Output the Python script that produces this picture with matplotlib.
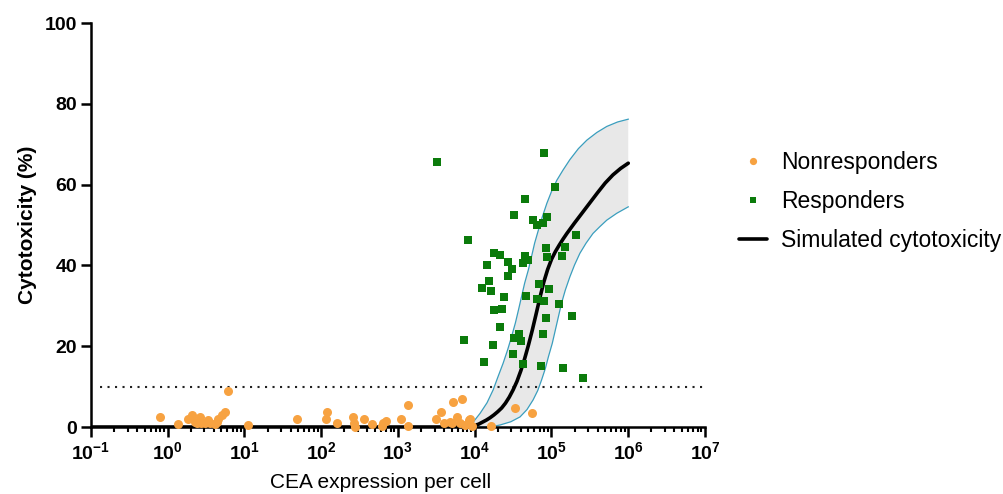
import numpy as np
import matplotlib
matplotlib.use('Agg')
import matplotlib.pyplot as plt
from matplotlib.ticker import FixedLocator, LogLocator, NullFormatter

plt.rcParams['font.family'] = ['Liberation Sans', 'DejaVu Sans']
plt.rcParams['mathtext.fontset'] = 'custom'
plt.rcParams['mathtext.rm'] = 'Liberation Sans:bold'
plt.rcParams['mathtext.it'] = 'Liberation Sans:bold'
plt.rcParams['mathtext.bf'] = 'Liberation Sans:bold'
plt.rcParams['mathtext.default'] = 'bf'

# nonresponders: CEA expression per cell, cytotoxicity (%)
nonresp_x = [0.79, 1.35, 1.85, 2.1, 2.26, 2.38, 2.63, 2.75, 3.05, 3.37, 3.55,
             4.1, 4.35, 4.57, 5.05, 5.57, 6.15, 11.2, 47.9, 120, 117, 162,
             263, 269, 275, 363, 457, 617, 646, 708, 1100, 1350, 1350, 3160,
             3630, 3980, 4790, 5250, 5890, 6920, 5010, 6460, 7410, 8320,
             8710, 9120, 16200, 33100, 55000]
nonresp_y = [2.5, 0.7, 1.9, 3.0, 1.3, 0.9, 2.5, 1.1, 0.9, 1.7, 0.9,
             0.7, 1.3, 2.1, 3.0, 3.8, 8.9, 0.5, 2.1, 3.8, 1.9, 1.1,
             2.4, 0.9, 0.1, 1.9, 0.7, 0.25, 0.9, 1.6, 2.1, 5.4, 0.25, 2.1,
             3.8, 1.1, 1.3, 6.3, 2.5, 6.9, 0.9, 0.9, 0.5, 1.7,
             1.9, 0.25, 0.25, 4.6, 3.4]

# responders
resp_x = [3210, 80500, 112000, 45700, 32400, 56900, 88100, 65300, 76700,
          8130, 209000, 18000, 21400, 85100, 151000, 88100, 135000, 45200,
          50100, 42700, 27500, 14300, 30200, 27500, 15300, 12300, 16200,
          69200, 93300, 24300, 46800, 64600, 79400, 126000, 17600, 22900,
          85100, 186000, 21400, 76700, 7240, 32700, 37200, 39800, 17400,
          31600, 13300, 42200, 72400, 141000, 257000]
resp_y = [65.7, 67.9, 59.3, 56.4, 52.4, 51.2, 51.9, 50.0, 50.6,
          46.3, 47.5, 43.1, 42.7, 44.2, 44.6, 42.2, 42.4, 42.4,
          41.3, 40.5, 40.9, 40.1, 39.0, 37.5, 36.2, 34.3, 33.7,
          35.4, 34.2, 32.3, 32.4, 31.6, 31.3, 30.4, 29.0, 29.1,
          27.1, 27.6, 24.7, 23.0, 21.5, 22.1, 23.0, 21.4, 20.2,
          18.0, 16.2, 15.5, 15.1, 14.5, 12.2]

# simulated cytotoxicity (log10 of CEA expression, %)
sim_logx = [-1.0, 3.5, 3.8, 3.9, 4.00, 4.05, 4.10, 4.15, 4.20, 4.25, 4.30,
            4.35, 4.40, 4.45, 4.50, 4.55, 4.60, 4.65, 4.70, 4.75, 4.80,
            4.85, 4.90, 4.95, 5.00, 5.05, 5.10, 5.15, 5.20, 5.30, 5.40,
            5.50, 5.60, 5.70, 5.80, 5.90, 6.00]
sim_y = [0.0, 0.0, 0.05, 0.15, 0.4, 0.7, 1.2, 1.7, 2.3, 3.0, 3.8,
         4.7, 5.9, 7.4, 9.2, 11.3, 13.9, 16.9, 20.3, 24.0, 28.0,
         32.1, 35.9, 39.0, 41.5, 43.4, 45.0, 46.5, 47.9, 50.5, 53.0,
         55.5, 58.0, 60.4, 62.4, 64.0, 65.3]

# band edges
upper_logx = [3.5, 3.85, 3.95, 4.07, 4.16, 4.24, 4.30, 4.37, 4.43, 4.48,
              4.53, 4.57, 4.61, 4.65, 4.70, 4.74, 4.78, 4.83, 4.88, 4.94,
              5.00, 5.07, 5.15, 5.24, 5.35, 5.46, 5.59, 5.72, 5.86, 6.0]
upper_y = [0.0, 0.05, 0.5, 3.4, 6.0, 9.2, 12.3, 15.8, 19.2, 22.4,
           25.8, 29.0, 32.3, 35.6, 39.0, 42.2, 45.5, 48.8, 52.0, 55.4,
           58.3, 61.1, 63.6, 66.2, 68.9, 71.0, 72.9, 74.4, 75.5, 76.2]
lower_logx = [3.5, 4.2, 4.33, 4.47, 4.59, 4.68, 4.76, 4.82, 4.87, 4.92,
              4.96, 5.01, 5.05, 5.09, 5.13, 5.18, 5.24, 5.30, 5.37, 5.45,
              5.54, 5.63, 5.72, 5.85, 6.0]
lower_y = [0.0, 0.0, 0.5, 1.3, 2.5, 4.3, 6.7, 9.0, 11.6, 14.5,
           17.4, 20.7, 24.0, 27.3, 30.6, 33.9, 37.2, 40.1, 43.0, 45.5,
           47.9, 49.6, 51.2, 52.9, 54.5]

threshold = 10

orange = '#F7A241'
green = '#0B7B0B'
band_edge = '#3A9EBE'

fig = plt.figure(figsize=(10.04, 4.94), dpi=100)
ax = fig.add_axes([0.0906, 0.1356, 0.6116, 0.8178])

ux = 10 ** np.array(upper_logx)
lx = 10 ** np.array(lower_logx)
ax.fill(np.concatenate([ux, lx[::-1]]), np.concatenate([upper_y, lower_y[::-1]]),
        color='#E8E8E8', lw=0, zorder=1)
ax.plot(ux, upper_y, color=band_edge, lw=0.9, zorder=2)
ax.plot(lx, lower_y, color=band_edge, lw=0.9, zorder=2)

ax.plot([0.13, 1e7], [threshold, threshold], color='#222222', lw=1.5,
        linestyle=(0, (1, 2.6)), zorder=2)

ax.plot(10 ** np.array(sim_logx), sim_y, color='black', lw=2.6,
        solid_capstyle='round', solid_joinstyle='round', zorder=3,
        label='Simulated cytotoxicity')

ax.plot(nonresp_x, nonresp_y, 'o', color=orange, ms=6.5, mew=0,
        clip_on=False, zorder=5, label='Nonresponders')
ax.plot(resp_x, resp_y, 's', color=green, ms=6, mew=0,
        clip_on=False, zorder=4, label='Responders')

ax.set_xscale('log')
ax.set_xlim(1e-1, 1e7)
ax.set_ylim(0, 100)
majors = [10.0 ** k for k in range(-1, 8)]
ax.xaxis.set_major_locator(FixedLocator(majors))
ax.set_xticklabels(['$10^{%d}$' % k for k in range(-1, 8)])
ax.xaxis.set_minor_locator(LogLocator(base=10, subs=np.arange(2, 10), numticks=20))
ax.xaxis.set_minor_formatter(NullFormatter())
ax.set_yticks([0, 20, 40, 60, 80, 100])

for s in ['top', 'right']:
    ax.spines[s].set_visible(False)
for s in ['left', 'bottom']:
    ax.spines[s].set_linewidth(1.8)
ax.tick_params(which='major', length=7, width=1.8, labelsize=14, pad=3)
ax.tick_params(which='minor', length=3.5, width=1.5)
for lab in ax.get_yticklabels():
    lab.set_fontweight('bold')

ax.set_ylabel('Cytotoxicity (%)', fontsize=15, fontweight='bold')
ax.yaxis.set_label_coords(-0.088, 0.5)
ax.set_xlabel('CEA expression per cell', fontsize=15)
ax.xaxis.set_label_coords(0.472, -0.115)

handles, labels = ax.get_legend_handles_labels()
order = [1, 2, 0]
ax.legend([handles[i] for i in order], [labels[i] for i in order],
          loc='upper left', bbox_to_anchor=(0.736, 0.695), bbox_transform=fig.transFigure,
          frameon=False, fontsize=16.5, borderpad=0, borderaxespad=0,
          handlelength=1.22, handletextpad=0.6, labelspacing=0.7, markerscale=0.8)

fig.savefig('out.png', dpi=100)
